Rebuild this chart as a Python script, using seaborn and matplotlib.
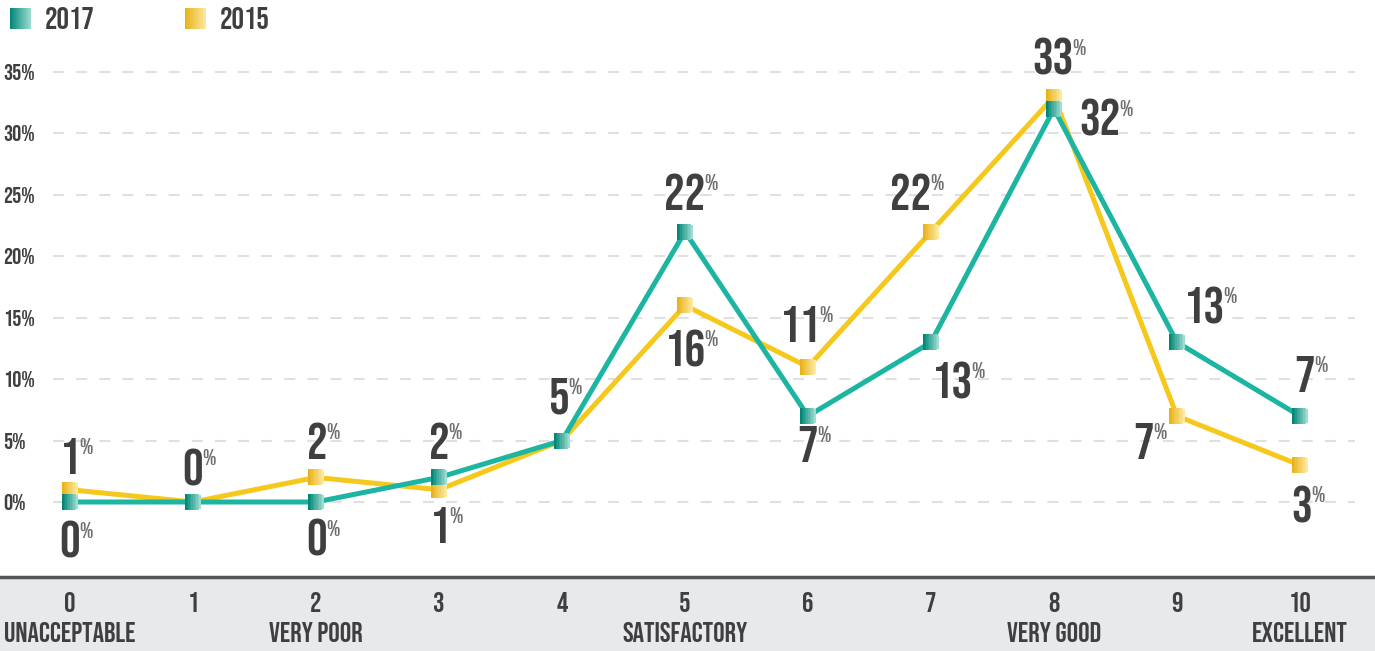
import numpy as np
import pandas as pd
import matplotlib
matplotlib.use("Agg")
import matplotlib.pyplot as plt
import matplotlib.transforms as mtransforms
from matplotlib.path import Path
from matplotlib.colors import LinearSegmentedColormap
import seaborn as sns

# data
scores = list(range(11))
score_labels = ["0", "1", "2", "3", "4", "5", "6", "7", "8", "9", "10"]
category_labels = {0: "UNACCEPTABLE", 2: "VERY POOR", 5: "SATISFACTORY", 8: "VERY GOOD", 10: "EXCELLENT"}
pct_2017 = [0, 0, 0, 2, 5, 22, 7, 13, 32, 13, 7]
pct_2015 = [1, 0, 2, 1, 5, 16, 11, 22, 33, 7, 3]
ytick_values = [0, 5, 10, 15, 20, 25, 30, 35]

TEAL = "#1cb5a1"
YELLOW = "#f6c81c"
TEAL_GRAD = ("#008777", "#9fdcd2")
YELLOW_GRAD = ("#e9b21a", "#fde9a0")
TEXT = "#3f3f41"
PCT = "#6d6e71"

sns.set_style("white")
plt.rcParams["font.family"] = ["Bebas Neue", "DejaVu Sans"]

df = pd.DataFrame({
    "score": scores * 2,
    "pct": pct_2015 + pct_2017,
    "year": ["2015"] * len(scores) + ["2017"] * len(scores),
})

W, H = 1375, 651
fig = plt.figure(figsize=(W / 100, H / 100), dpi=100)
band_h = 74
ax = fig.add_axes([0, band_h / H, 1, (H - band_h) / H])
band = fig.add_axes([0, 0, 1, band_h / H])

xlim = (-70 / 123, (W - 70) / 123)
ax.set_xlim(*xlim)
ax.set_ylim(-75 / 12.286, 502 / 12.286)

# dashed grid
for v in ytick_values:
    ax.plot([-0.14, 10.45], [v, v], color="#e0e0e0", lw=1.5,
            dashes=(5.3, 5.8), zorder=0, solid_capstyle="butt")
ytrans = mtransforms.blended_transform_factory(ax.transAxes, ax.transData)
for v in ytick_values:
    ax.text(0.002, v, f"{v}%", transform=ytrans, ha="left", va="center",
            fontsize=16.5, color=TEXT)

sns.lineplot(data=df, x="score", y="pct", hue="year",
             palette={"2015": YELLOW, "2017": TEAL}, hue_order=["2015", "2017"],
             lw=3.6, legend=False, ax=ax, zorder=3)


# gradient square markers built from vertical strips
def strip_markers(xs, ys, grad, z):
    n = 10
    cmap = LinearSegmentedColormap.from_list("g", grad)
    edges = np.linspace(-1, 1, n + 1)
    for i in range(n):
        x0, x1 = edges[i], edges[i + 1] + 0.02
        p = Path([(x0, -1), (x1, -1), (x1, 1), (x0, 1), (x0, -1)])
        c = cmap(i / (n - 1))
        ax.plot(xs, ys, ls="none", marker=p, markersize=11, color=c,
                markeredgewidth=0, zorder=z)


strip_markers(scores, pct_2015, YELLOW_GRAD, 4)
strip_markers(scores, pct_2017, TEAL_GRAD, 5)

# value labels: (series, index, dx px, dy px) offset of number centre from marker
label_pos = [
    ("2015", 0, 0, -34), ("2015", 2, 1, -36), ("2015", 3, 1, 35),
    ("2015", 5, 0, 43), ("2015", 6, -8, -43), ("2015", 7, -20, -40),
    ("2015", 8, -1, -40), ("2015", 9, -33, 25), ("2015", 10, 2, 39),
    ("2017", 0, 0, 38), ("2017", 1, 0, -35), ("2017", 2, 1, 36),
    ("2017", 3, 0, -36), ("2017", 4, -3, -45), ("2017", 5, 0, -40),
    ("2017", 6, 0, 28), ("2017", 7, 21, 38), ("2017", 8, 46, 9),
    ("2017", 9, 27, -37), ("2017", 10, 5, -42),
]
series = {"2015": pct_2015, "2017": pct_2017}
k = 0.72
cap = 36
pcap = 16
for name, i, dx, dy in label_pos:
    val = series[name][i]
    num = ax.annotate(str(val), xy=(scores[i], val), xytext=(dx * k, -(dy + cap / 2) * k),
                      textcoords="offset points", ha="center", va="baseline",
                      fontsize=37, color=TEXT, zorder=6)
    ax.annotate("%", xy=(1, val), xycoords=(num, "data"),
                xytext=(-1.0, -(dy + cap / 2) * k + (cap - pcap) * k),
                textcoords="offset points", ha="left", va="baseline",
                fontsize=16.5, color=PCT, zorder=6)

ax.axis("off")

# bottom band
band.set_facecolor("#e8e9eb")
band.set_xlim(*xlim)
band.set_ylim(0, 1)
band.set_xticks([])
band.set_yticks([])
for s in ["left", "right", "bottom"]:
    band.spines[s].set_visible(False)
band.spines["top"].set_color("#555658")
band.spines["top"].set_linewidth(2.5)
for x, lab in zip(scores, score_labels):
    band.text(x, 0.66, lab, ha="center", va="center", fontsize=20.5, color=TEXT)
for x, lab in category_labels.items():
    band.text(x, 0.25, lab, ha="center", va="center", fontsize=20.5, color=TEXT)

# legend with gradient swatches
grad = np.linspace(0, 1, 64).reshape(1, -1)
for x0, gcol, label in [(10, TEAL_GRAD, "2017"), (185, YELLOW_GRAD, "2015")]:
    sw = fig.add_axes([x0 / W, 1 - 29 / H, 21 / W, 21 / H])
    sw.imshow(grad, cmap=LinearSegmentedColormap.from_list("g", gcol), aspect="auto")
    sw.axis("off")
    fig.text((x0 + 35) / W, 1 - 18 / H, label, ha="left", va="center",
             fontsize=22.5, color=TEXT)

fig.savefig("out.png", dpi=100)
